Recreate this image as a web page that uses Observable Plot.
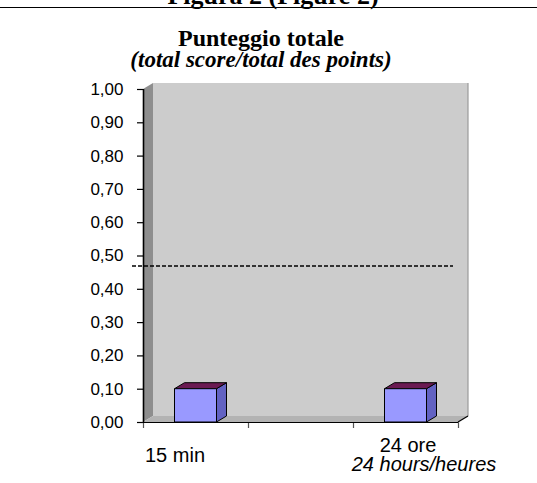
<!DOCTYPE html>
<html>
<head>
<meta charset="utf-8">
<script src="https://cdn.jsdelivr.net/npm/d3@7"></script>
<script src="https://cdn.jsdelivr.net/npm/@observablehq/plot@0.6"></script>
<style>
  html, body { margin: 0; padding: 0; background: #fff; }
  #chart { width: 537px; height: 483px; overflow: hidden; }
</style>
</head>
<body>
<div id="chart"></div>
<script>
// ---- data ----
const categories = ["15 min", "", "24 ore"];
const subLabels = ["", "", "24 hours/heures"];
const values = [0.10, null, 0.10];
const referenceLine = [0.47];
const yTicks = [0, 0.1, 0.2, 0.3, 0.4, 0.5, 0.6, 0.7, 0.8, 0.9, 1.0];
const xBoundaries = [-0.5, 0.5, 1.5, 2.5];
const figureTitle = "Figura 2 (Figure 2)";
const chartTitle = "Punteggio totale";
const chartSubtitle = "(total score/total des points)";

const table = categories.map((c, i) => ({i, category: c, sub: subLabels[i], value: values[i]}))
  .filter(d => d.value != null);

// ---- style constants ----
const DX = 10, DY = 6;          // 3D depth offset
const HALF = 0.2;               // half bar width in category units
const sans = "'Liberation Sans', Arial, sans-serif";
const serif = "'Liberation Serif', 'Times New Roman', serif";

function walls(index, scales) {
  const {x, y} = scales;
  const x0 = x(xBoundaries[0]), x1 = x(xBoundaries[xBoundaries.length - 1]);
  const y0 = y(0), y1 = y(1);
  const g = d3.create("svg:g");
  const poly = pts => pts.map(p => p.join(",")).join(" ");
  // back wall
  g.append("rect").attr("x", x0 + DX).attr("y", y1 - DY)
    .attr("width", x1 - x0).attr("height", y0 - y1).attr("fill", "#cccccc");
  g.append("line").attr("x1", x1 + DX).attr("x2", x1 + DX).attr("y1", y1 - DY).attr("y2", y0 - DY)
    .attr("stroke", "#9a9a9a").attr("stroke-width", 1.2);
  // left wall
  g.append("polygon").attr("points", poly([[x0, y1], [x0 + DX, y1 - DY], [x0 + DX, y0 - DY], [x0, y0]]))
    .attr("fill", "#8e8e8e");
  // floor
  g.append("polygon").attr("points", poly([[x0, y0], [x1, y0], [x1 + DX, y0 - DY], [x0 + DX, y0 - DY]]))
    .attr("fill", "#b3b3b3");
  g.append("line").attr("x1", x1).attr("y1", y0).attr("x2", x1 + DX).attr("y2", y0 - DY)
    .attr("stroke", "#000").attr("stroke-width", 1.2);
  return g.node();
}

function bars3d(index, scales) {
  const {x, y} = scales;
  const g = d3.create("svg:g").attr("stroke", "#000").attr("stroke-width", 1).attr("stroke-linejoin", "round");
  const poly = pts => pts.map(p => p.join(",")).join(" ");
  for (const d of table) {
    const xl = x(d.i - HALF), xr = x(d.i + HALF), yt = y(d.value), yb = y(0);
    g.append("polygon").attr("points", poly([[xr, yt], [xr + DX, yt - DY], [xr + DX, yb - DY], [xr, yb]]))
      .attr("fill", "#6262c2");
    g.append("polygon").attr("points", poly([[xl, yt], [xl + DX, yt - DY], [xr + DX, yt - DY], [xr, yt]]))
      .attr("fill", "#6a1a52");
    g.append("rect").attr("x", xl).attr("y", yt).attr("width", xr - xl).attr("height", yb - yt)
      .attr("fill", "#9999ff");
  }
  return g.node();
}

function titles() {
  const g = d3.create("svg:g").attr("fill", "#000").attr("text-anchor", "middle");
  g.append("text").attr("x", 273).attr("y", 4).attr("font-family", serif).attr("font-weight", "bold")
    .attr("font-size", 26).text(figureTitle);
  g.append("line").attr("x1", 0).attr("x2", 537).attr("y1", 7.5).attr("y2", 7.5)
    .attr("stroke", "#000").attr("stroke-width", 1.2);
  g.append("text").attr("x", 261).attr("y", 45.5).attr("font-family", serif).attr("font-weight", "bold")
    .attr("font-size", 24).text(chartTitle);
  g.append("text").attr("x", 261).attr("y", 66.5).attr("font-family", serif).attr("font-weight", "bold")
    .attr("font-style", "italic").attr("font-size", 23).text(chartSubtitle);
  return g.node();
}

const chart = Plot.plot({
  width: 537,
  height: 483,
  marginLeft: 143,
  marginRight: 79,
  marginTop: 89,
  marginBottom: 61,
  style: {fontFamily: sans, fontSize: "17px", background: "#fff", color: "#000", overflow: "visible"},
  x: {type: "linear", domain: [xBoundaries[0], xBoundaries[xBoundaries.length - 1]], axis: null},
  y: {type: "linear", domain: [0, 1], axis: null},
  marks: [
    titles,
    walls,
    Plot.ruleY(referenceLine, {stroke: "#000", strokeWidth: 1.3, strokeDasharray: "4,2", insetLeft: -11, insetRight: 5}),
    bars3d,
    Plot.axisY({ticks: yTicks, tickFormat: d => d.toFixed(2).replace(".", ","), tickSize: 6, tickPadding: 14,
      fontSize: 17, stroke: "#000", strokeWidth: 1.2, label: null}),
    Plot.axisX({ticks: xBoundaries, tickFormat: () => "", tickSize: 6, stroke: "#555", strokeWidth: 1.2, label: null}),
    Plot.ruleX([xBoundaries[0]], {y1: 0, y2: 1, stroke: "#000", strokeWidth: 1.6}),
    Plot.ruleY([0], {x1: xBoundaries[0], x2: xBoundaries[xBoundaries.length - 1], stroke: "#000", strokeWidth: 1.2}),
    Plot.text(table.filter(d => d.i === 0), {x: "i", y: 0, text: "category", dx: -21, dy: 39, lineAnchor: "bottom", fontSize: 20, fill: "#000"}),
    Plot.text(table.filter(d => d.i === 2), {x: "i", y: 0, text: "category", dx: 2, dy: 29, lineAnchor: "bottom", fontSize: 20, fill: "#000"}),
    Plot.text(table.filter(d => d.sub), {x: "i", y: 0, text: "sub", dx: 18, dy: 48, lineAnchor: "bottom", fontSize: 20, fontStyle: "italic", fill: "#000"})
  ]
});
document.getElementById("chart").appendChild(chart);
</script>
</body>
</html>
